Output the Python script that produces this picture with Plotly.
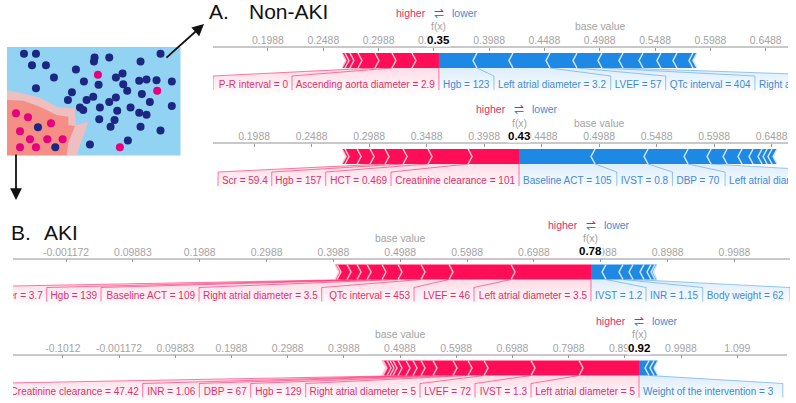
import plotly.graph_objects as go

WIDTH = 796
HEIGHT = 403
FONT = "Liberation Sans"

RED = "#ff0d57"
BLUE = "#1e88e5"
RED_LIGHT = "#ffc3d5"
BLUE_LIGHT = "#d1e6fa"
RED_TEXT = "#e0306a"
BLUE_TEXT = "#3f8ad8"

# Tick labels shared by the force plots
ticks_a = [0.1988, 0.2488, 0.2988, 0.3488, 0.3988, 0.4488, 0.4988, 0.5488, 0.5988, 0.6488]
ticks_b1 = [-0.001172, 0.09883, 0.1988, 0.2988, 0.3988, 0.4988, 0.5988, 0.6988, 0.7988, 0.8988, 0.9988]
ticks_b2 = [-0.1012, -0.001172, 0.09883, 0.1988, 0.2988, 0.3988, 0.4988, 0.5988, 0.6988, 0.7988, 0.8988, 0.9988, 1.099]

base_value = 0.4988

# Force plot A1 (Non-AKI, first case)
a1_fx = 0.3534
a1_red_breaks = [0.2657, 0.2684, 0.2729, 0.2802, 0.2955, 0.3109, 0.3290]
a1_blue_breaks = [0.3878, 0.4203, 0.4538, 0.4782, 0.5008, 0.5198, 0.5379, 0.5541, 0.5686, 0.5831]
a1_blue_end = 0.5867
a1_red_labels = ["Ascending aorta diameter = 2.9", "P-R interval = 0"]
a1_red_edges = [0.2205, 0.1491]
a1_red_links = [0.3109, 0.2955]
a1_blue_labels = ["Hgb = 123", "Left atrial diameter = 3.2", "LVEF = 57", "QTc interval = 404", "Right atrial diameter = 3.4"]
a1_blue_edges = [0.4031, 0.5087, 0.5584, 0.6391, 0.7250]
a1_blue_links = [0.3878, 0.4538, 0.4782, 0.5008, 0.5198]

# Force plot A2 (Non-AKI, second case)
a2_fx = 0.4292
a2_red_breaks = [0.2753, 0.2779, 0.2884, 0.2997, 0.3127, 0.3284, 0.3501, 0.3849]
a2_blue_breaks = [0.4953, 0.5414, 0.5762, 0.5962, 0.6101, 0.6231, 0.6327, 0.6405, 0.6449, 0.6492]
a2_blue_end = 0.6536
a2_red_labels = ["Creatinine clearance = 101", "HCT = 0.469", "Hgb = 157", "Scr = 59.4"]
a2_red_edges = [0.3179, 0.2611, 0.2142, 0.1675]
a2_red_links = [0.3849, 0.3501, 0.3284, 0.3127]
a2_blue_labels = ["Baseline ACT = 105", "IVST = 0.8", "DBP = 70", "Left atrial diameter = 3.5"]
a2_blue_edges = [0.5142, 0.5626, 0.6084, 0.7171]
a2_blue_links = [0.4953, 0.5414, 0.5762, 0.5962]

# Force plot B1 (AKI, first case)
b1_fx = 0.7841
b1_red_breaks = [0.4012, 0.4042, 0.4191, 0.4341, 0.4491, 0.4715, 0.4954, 0.5298, 0.5717, 0.6645]
b1_blue_breaks = [0.8066, 0.8320, 0.8470, 0.8634, 0.8739, 0.8799]
b1_blue_end = 0.8830
b1_red_labels = ["Left atrial diameter = 3.5", "LVEF = 46", "QTc interval = 453", "Right atrial diameter = 3.5",
                 "Baseline ACT = 109", "Hgb = 139", "Left atrial diameter = 3.7"]
b1_red_edges = [0.6091, 0.5194, 0.3813, 0.1978, 0.0512, -0.0301, -0.2000]
b1_red_links = [0.6645, 0.5717, 0.5298, 0.4954, 0.4715, 0.4491, 0.4341]
b1_blue_labels = ["IVST = 1.2", "INR = 1.15", "Body weight = 62"]
b1_blue_edges = [0.8664, 0.9512, 1.0818]
b1_blue_links = [0.8066, 0.8320, 0.8470]

# Force plot B2 (AKI, second case)
b2_fx = 0.9241
b2_red_breaks = [0.4668, 0.4686, 0.4757, 0.4810, 0.4863, 0.4952, 0.5095, 0.5219, 0.5362, 0.5575,
                 0.5931, 0.6198, 0.6483, 0.7319, 0.8173]
b2_blue_breaks = [0.9419, 0.9508]
b2_blue_end = 0.9579
b2_red_labels = ["Left atrial diameter = 5", "IVST = 1.3", "LVEF = 72", "Right atrial diameter = 5", "Hgb = 129",
                 "DBP = 67", "INR = 1.06", "Creatinine clearance = 47.42"]
b2_red_edges = [0.7319, 0.6323, 0.5344, 0.3310, 0.2332, 0.1417, 0.0410, -0.2500]
b2_red_links = [0.8173, 0.7319, 0.6483, 0.6198, 0.5931, 0.5575, 0.5362, 0.5219]
b2_blue_labels = ["Weight of the intervention = 3"]
b2_blue_edges = [1.1800]
b2_blue_links = [0.9419]

# Inset scatter, in units
navy_x = [72, 108, 96, 138, 162, 108, 228, 252, 284, 282, 328, 422, 482, 368, 348, 370, 296, 216, 204, 260, 280, 382,
          418, 440, 470, 516, 426, 450, 348, 328, 240, 250, 300, 352, 392, 418, 440, 516, 298, 344, 332, 422, 482, 384,
          270, 114, 166]
navy_y = [160, 160, 195, 195, 232, 264, 208, 244, 172, 184, 172, 184, 160, 220, 232, 252, 254, 276, 300, 300, 290, 272,
          242, 238, 240, 244, 282, 306, 292, 306, 322, 330, 322, 332, 322, 338, 344, 318, 358, 360, 380, 380, 392, 422,
          434, 382, 442]
pink_x = [294, 472, 48, 84, 153, 60, 90, 142, 188, 60, 108, 360]
pink_y = [224, 272, 340, 352, 370, 394, 418, 418, 418, 442, 442, 442]
halo_x = [21, 70, 120, 170, 225, 228, 265, 230, 21]
halo_y = [270, 280, 292, 320, 325, 375, 365, 467, 467]
blob_x = [21, 70, 120, 170, 205, 205, 225, 205, 200, 21]
blob_y = [300, 302, 320, 345, 350, 375, 378, 430, 467, 467]


def paper_y(py):
    return 1 - py / HEIGHT


def fmt_tick(v):
    return f"{v:.4g}"


# Offsets in pixels below the axis line, used as the y scale of each force panel
BAR_TOP = 5
BAR_BOTTOM = 20
STRIP_TOP = 28
STRIP_BOTTOM = 42
FADE_BOTTOM = 47
TEXT_Y = 37
PANEL_H = 47
TIP = 4
PAD = 4


def add_force(fig, n, axis_py, x_left, x_right, v_left, v_right, ticks, fx, red_breaks, blue_breaks, blue_end,
              red_labels, red_edges, red_links, blue_labels, blue_edges, blue_links):
    xname = f"x{n}" if n > 1 else "x"
    yname = f"y{n}" if n > 1 else "y"
    per_px = (v_right - v_left) / (x_right - x_left)
    tip = TIP * per_px
    mid = (BAR_TOP + BAR_BOTTOM) / 2

    fig.update_layout({
        f"xaxis{n}": dict(domain=[x_left / WIDTH, x_right / WIDTH], range=[v_left, v_right], side="top",
                          anchor=yname, tickmode="array", tickvals=ticks, ticktext=[fmt_tick(t) for t in ticks],
                          ticks="inside", ticklen=3, tickcolor="#999999", showline=True, linecolor="#c8c8c8",
                          linewidth=1.5, showgrid=False, zeroline=False, ticklabelstandoff=-2,
                          tickfont=dict(family=FONT, size=10.4, color="#a3a3a3")),
        f"yaxis{n}": dict(domain=[paper_y(axis_py + PANEL_H), paper_y(axis_py)], range=[PANEL_H, 0], anchor=xname,
                          visible=False),
    })

    # Label strips with the funnel up to the bar
    for edges, links, rgb in [(red_edges, red_links, "255,13,87"), (blue_edges, blue_links, "30,136,229")]:
        near = fx
        prev_link = fx
        for edge, link in zip(edges, links):
            fig.add_trace(go.Scatter(
                x=[prev_link, link, edge, edge, near, near, prev_link],
                y=[BAR_BOTTOM, BAR_BOTTOM, STRIP_TOP, FADE_BOTTOM, FADE_BOTTOM, STRIP_TOP, BAR_BOTTOM],
                xaxis=xname, yaxis=yname, mode="none", fill="toself",
                fillgradient=dict(type="vertical", start=BAR_BOTTOM, stop=FADE_BOTTOM,
                                  colorscale=[[0, f"rgba({rgb},0.15)"], [1, f"rgba({rgb},0.0)"]]),
                hoverinfo="skip", showlegend=False))
            near = edge
            prev_link = link

    # Connector lines and separators
    for links, edges, color in [(red_links, red_edges, "rgba(255,13,87,0.55)"),
                                (blue_links, blue_edges, "rgba(30,136,229,0.45)")]:
        xs, ys = [], []
        for link, edge in zip(links, edges):
            xs += [link, edge, edge, None]
            ys += [BAR_BOTTOM, STRIP_TOP, STRIP_BOTTOM, None]
        fig.add_trace(go.Scatter(x=xs, y=ys, xaxis=xname, yaxis=yname, mode="lines", line=dict(color=color, width=1),
                                 hoverinfo="skip", showlegend=False))
    fig.add_trace(go.Scatter(x=[fx, fx], y=[BAR_BOTTOM, STRIP_BOTTOM], xaxis=xname, yaxis=yname, mode="lines",
                             line=dict(color="rgba(255,13,87,0.55)", width=1), hoverinfo="skip", showlegend=False))

    # Red arrows point right, blue arrows point left
    rx, ry = [], []
    edges_r = red_breaks + [fx]
    for i in range(len(red_breaks)):
        a, b = edges_r[i], edges_r[i + 1]
        b_tip = tip if b != fx else 0
        rx += [a, b, b + b_tip, b, a, a + tip, a, None]
        ry += [BAR_TOP, BAR_TOP, mid, BAR_BOTTOM, BAR_BOTTOM, mid, BAR_TOP, None]
    fig.add_trace(go.Scatter(x=rx, y=ry, xaxis=xname, yaxis=yname, mode="none", fill="toself", fillcolor=RED,
                             hoverinfo="skip", showlegend=False))
    bx, by = [], []
    edges_b = [fx] + blue_breaks + [blue_end]
    for i in range(len(edges_b) - 1):
        a, b = edges_b[i], edges_b[i + 1]
        a_tip = tip if a != fx else 0
        bx += [a, b, b - tip, b, a, a - a_tip, a, None]
        by += [BAR_TOP, BAR_TOP, mid, BAR_BOTTOM, BAR_BOTTOM, mid, BAR_TOP, None]
    fig.add_trace(go.Scatter(x=bx, y=by, xaxis=xname, yaxis=yname, mode="none", fill="toself", fillcolor=BLUE,
                             hoverinfo="skip", showlegend=False))

    # Pale chevrons on the arrow joints
    cx, cy = [], []
    for b in red_breaks:
        cx += [b, b + tip, b, None]
        cy += [BAR_TOP, mid, BAR_BOTTOM, None]
    fig.add_trace(go.Scatter(x=cx, y=cy, xaxis=xname, yaxis=yname, mode="lines",
                             line=dict(color=RED_LIGHT, width=1.5), hoverinfo="skip", showlegend=False))
    cx, cy = [], []
    for b in blue_breaks + [blue_end]:
        cx += [b, b - tip, b, None]
        cy += [BAR_TOP, mid, BAR_BOTTOM, None]
    fig.add_trace(go.Scatter(x=cx, y=cy, xaxis=xname, yaxis=yname, mode="lines",
                             line=dict(color=BLUE_LIGHT, width=1.5), hoverinfo="skip", showlegend=False))

    # Feature labels, clipped by the subplot
    near = [fx] + red_edges[:-1]
    fig.add_trace(go.Scatter(x=[v - PAD * per_px for v in near], y=[TEXT_Y] * len(near), xaxis=xname, yaxis=yname,
                             mode="text", text=red_labels, textposition="middle left",
                             textfont=dict(family=FONT, size=10, color=RED_TEXT), hoverinfo="skip", showlegend=False))
    near = [fx] + blue_edges[:-1]
    fig.add_trace(go.Scatter(x=[v + PAD * per_px for v in near], y=[TEXT_Y] * len(near), xaxis=xname, yaxis=yname,
                             mode="text", text=blue_labels, textposition="middle right",
                             textfont=dict(family=FONT, size=10, color=BLUE_TEXT), hoverinfo="skip", showlegend=False))

    # Header texts over the axis
    def note(value, py, text, color, size=11, weight=None, bg=None, dx=0):
        fig.add_annotation(x=value, y=paper_y(py), xref=xname, yref="paper", text=text, showarrow=False, xshift=dx,
                           font=dict(family=FONT, size=size, color=color, weight=weight), bgcolor=bg, borderpad=0,
                           xanchor="center", yanchor="middle")

    note(fx, axis_py - 35, "higher", RED_TEXT, size=10.5, dx=-28)
    note(fx, axis_py - 35, "lower", BLUE_TEXT, size=10.5, dx=26)
    note(fx, axis_py - 37, "⇀", RED, size=12, dx=0)
    note(fx, axis_py - 33, "↽", BLUE, size=12, dx=0)
    note(fx, axis_py - 21, "f(x)", "#a3a3a3", size=10.4)
    note(base_value, axis_py - 21, "base value", "#a3a3a3", size=10.4)
    note(fx, axis_py - 8, f"{fx:.2f}", "#000000", size=11.5, weight="bold", bg="#ffffff")


fig = go.Figure()

add_force(fig, 1, 48, 213, 788, 0.1491, 0.6690, ticks_a, a1_fx, a1_red_breaks, a1_blue_breaks, a1_blue_end,
          a1_red_labels, a1_red_edges, a1_red_links, a1_blue_labels, a1_blue_edges, a1_blue_links)
add_force(fig, 2, 144, 213, 788, 0.1631, 0.6631, ticks_a, a2_fx, a2_red_breaks, a2_blue_breaks, a2_blue_end,
          a2_red_labels, a2_red_edges, a2_red_links, a2_blue_labels, a2_blue_edges, a2_blue_links)
add_force(fig, 3, 259.5, 13, 790, -0.0805, 1.0818, ticks_b1, b1_fx, b1_red_breaks, b1_blue_breaks, b1_blue_end,
          b1_red_labels, b1_red_edges, b1_red_links, b1_blue_labels, b1_blue_edges, b1_blue_links)
add_force(fig, 4, 355.5, 13, 787, -0.1898, 1.1874, ticks_b2, b2_fx, b2_red_breaks, b2_blue_breaks, b2_blue_end,
          b2_red_labels, b2_red_edges, b2_red_links, b2_blue_labels, b2_blue_edges, b2_blue_links)

# Inset with the two groups of patients
fig.update_layout(
    xaxis5=dict(domain=[7 / WIDTH, 180.5 / WIDTH], range=[21, 542], anchor="y5", visible=False),
    yaxis5=dict(domain=[paper_y(155.5), paper_y(47)], range=[467, 140], anchor="x5", visible=False),
)
fig.add_trace(go.Scatter(x=halo_x, y=halo_y, xaxis="x5", yaxis="y5", mode="none", fill="toself", fillcolor="#eebfc0",
                         hoverinfo="skip", showlegend=False))
fig.add_trace(go.Scatter(x=blob_x, y=blob_y, xaxis="x5", yaxis="y5", mode="none", fill="toself", fillcolor="#f58f85",
                         hoverinfo="skip", showlegend=False))
fig.add_trace(go.Scatter(x=navy_x, y=navy_y, xaxis="x5", yaxis="y5", mode="markers", cliponaxis=False,
                         marker=dict(color="#1b2780", size=8), hoverinfo="skip", showlegend=False))
fig.add_trace(go.Scatter(x=pink_x, y=pink_y, xaxis="x5", yaxis="y5", mode="markers", cliponaxis=False,
                         marker=dict(color="#e6007e", size=8), hoverinfo="skip", showlegend=False))

fig.add_shape(type="rect", xref="paper", yref="paper", x0=7 / WIDTH, x1=180.5 / WIDTH, y0=paper_y(155.5),
              y1=paper_y(47), fillcolor="#92d2f3", line_width=0, layer="below")

# Panel letters and titles
for text, px, py in [("A.", 207, 11), ("Non-AKI", 247, 11), ("B.", 9, 232), ("AKI", 42, 232)]:
    fig.add_annotation(x=px / WIDTH, y=paper_y(py), xref="paper", yref="paper", text=text, showarrow=False,
                       xanchor="left", yanchor="middle", font=dict(family=FONT, size=21, color="#111111"))

# Arrows from the inset to the panels
for tail, head in [((165, 59), (204, 24)), ((16, 153), (16, 200))]:
    fig.add_annotation(x=head[0] / WIDTH, y=paper_y(head[1]), ax=tail[0] - head[0], ay=tail[1] - head[1], xref="paper",
                       yref="paper", text="", showarrow=True, arrowhead=2, arrowsize=1.3,
                       arrowwidth=1.8, arrowcolor="#111111")

fig.update_layout(width=WIDTH, height=HEIGHT, margin=dict(l=0, r=0, t=0, b=0), paper_bgcolor="white",
                  plot_bgcolor="rgba(0,0,0,0)", showlegend=False)

# The page has a default body margin that would push the figure off the window
fig.write_html("out.html", config=dict(displayModeBar=False), post_script="document.body.style.margin = '0';")
